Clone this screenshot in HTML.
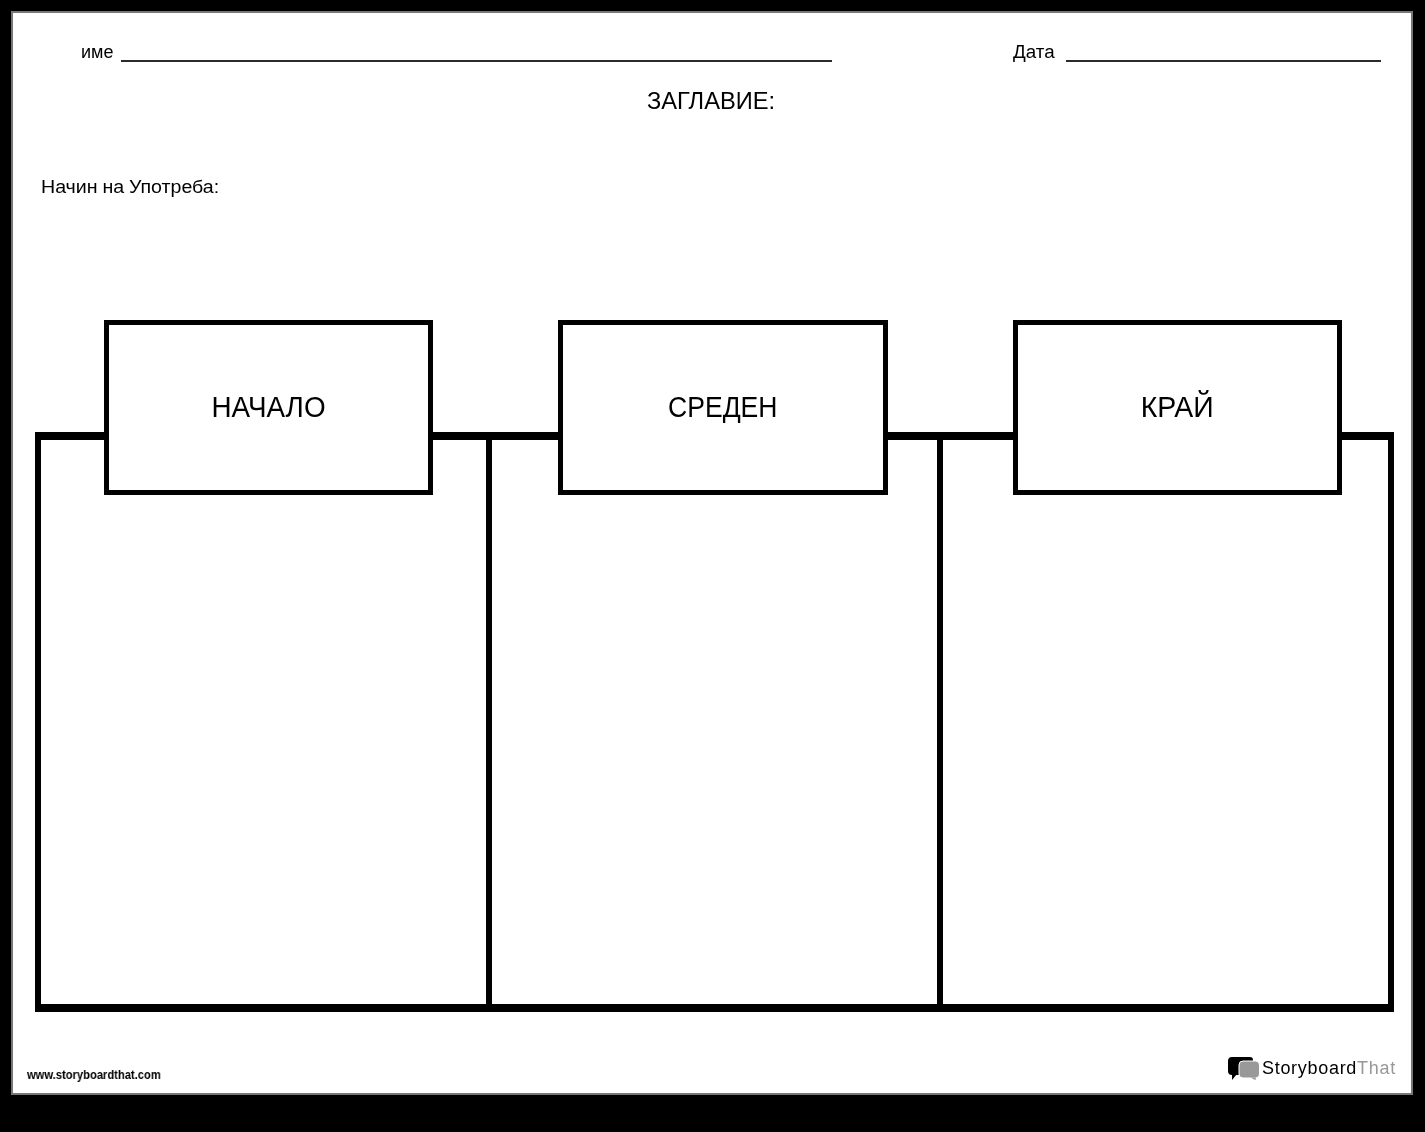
<!DOCTYPE html>
<html>
<head>
<meta charset="utf-8">
<style>
html,body{margin:0;padding:0;}
body{width:1425px;height:1132px;background:#000;position:relative;overflow:hidden;font-family:"Liberation Sans",sans-serif;color:#000;}
.page{position:absolute;left:11px;top:11px;width:1402px;height:1084px;box-sizing:border-box;border:2px solid #777;background:#fff;}
.abs{position:absolute;white-space:nowrap;line-height:1;will-change:transform;}
.line{position:absolute;height:2px;background:#2b2b2b;}
.col{position:absolute;top:432px;height:580px;box-sizing:border-box;border-style:solid;border-color:#000;border-width:8px 6px;background:#fff;}
.hdr{position:absolute;top:320px;height:175px;box-sizing:border-box;border:5px solid #000;background:#fff;}
.lbl{position:absolute;left:0;right:0;top:390px;text-align:center;font-size:28px;line-height:1;white-space:nowrap;}
</style>
</head>
<body>
<div class="page"></div>

<div class="abs" id="ime" style="left:81px;top:43px;font-size:18px;">име</div>
<div class="line" style="left:121px;top:60px;width:711px;"></div>
<div class="abs" id="data" style="left:1013px;top:42.5px;font-size:18.8px;">Дата</div>
<div class="line" style="left:1066px;top:60px;width:315px;"></div>

<div class="abs" id="title" style="left:647px;top:90px;font-size:23.7px;">ЗАГЛАВИЕ:</div>
<div class="abs" id="instr" style="left:41px;top:179px;font-size:17.5px;transform-origin:0 0;transform:scaleX(1.12);word-spacing:-0.6px;">Начин на Употреба:</div>

<div class="col" style="left:35px;width:457px;"></div>
<div class="col" style="left:486px;width:457px;"></div>
<div class="col" style="left:937px;width:457px;"></div>

<div class="hdr" style="left:104px;width:329px;"></div>
<div class="hdr" style="left:558px;width:330px;"></div>
<div class="hdr" style="left:1013px;width:329px;"></div>

<div class="abs" style="left:104px;width:329px;top:393px;font-size:29px;text-align:center;"><span id="l1" style="display:inline-block;transform:scaleX(0.96);">НАЧАЛО</span></div>
<div class="abs" style="left:558px;width:330px;top:393px;font-size:29px;text-align:center;"><span id="l2" style="display:inline-block;transform:scaleX(0.915);">СРЕДЕН</span></div>
<div class="abs" style="left:1013px;width:329px;top:393px;font-size:29px;text-align:center;"><span id="l3" style="display:inline-block;transform:scaleX(0.98);">КРАЙ</span></div>

<div class="abs" id="url" style="left:27px;top:1068px;font-size:13px;font-weight:bold;transform-origin:0 0;transform:scaleX(0.86);">www.storyboardthat.com</div>

<svg class="abs" style="left:1226px;top:1055px;" width="36" height="28" viewBox="0 0 36 28">
  <path d="M6,2 H24 A3,3 0 0 1 27,5 V20 H6 A4,4 0 0 1 2,16 V6 A4,4 0 0 1 6,2 Z" fill="#000"/>
  <path d="M6,19 L6,25 L11,19 Z" fill="#000"/>
  <rect x="13" y="6" width="20.5" height="17" rx="4" fill="#999" stroke="#fff" stroke-width="1"/>
  <path d="M24.5,22.5 L29.8,22.5 L29.5,25.2 Z" fill="#999"/>
</svg>
<div class="abs" id="logo" style="left:1262px;top:1059px;font-size:18px;letter-spacing:0.7px;"><span>Storyboard</span><span style="color:#999">That</span></div>

</body>
</html>
